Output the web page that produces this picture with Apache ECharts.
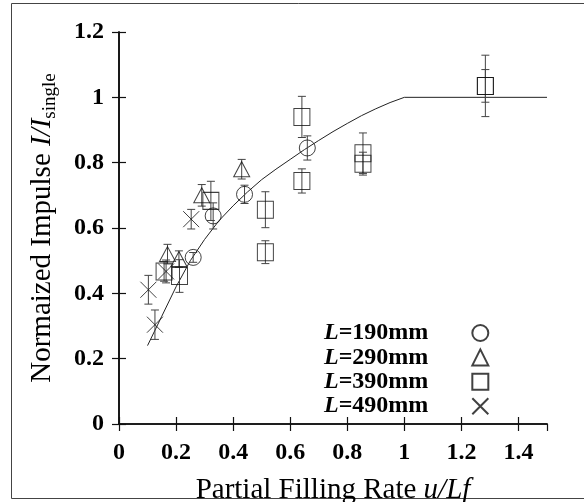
<!DOCTYPE html>
<html>
<head>
<meta charset="utf-8">
<script src="https://cdn.jsdelivr.net/npm/echarts@6/dist/echarts.min.js"></script>
<style>
  html, body { margin: 0; padding: 0; background: #fff; }
  #chart { width: 584px; height: 502px; }
</style>
</head>
<body>
<div id="chart"></div>
<script>
// L=190mm (circles)
var circleX = [0.26, 0.33, 0.44, 0.66];
var circleY = [0.51, 0.637, 0.703, 0.845];
var circleErr = [0.015, 0.04, 0.028, 0.037];
// L=290mm (triangles)
var triX = [0.17, 0.21, 0.29, 0.43];
var triY = [0.52, 0.505, 0.70, 0.78];
var triErr = [0.03, 0.025, 0.033, 0.03];
// L=390mm (squares)
var sqX = [0.158, 0.212, 0.322, 0.513, 0.513, 0.641, 0.641, 0.855, 0.855, 1.284, 1.284];
var sqY = [0.467, 0.453, 0.683, 0.656, 0.526, 0.94, 0.744, 0.829, 0.797, 1.035, 1.035];
var sqErr = [0.03, 0.05, 0.06, 0.055, 0.035, 0.063, 0.037, 0.062, 0.035, 0.094, 0.05];
// L=490mm (crosses)
var crossX = [0.103, 0.126, 0.165, 0.253];
var crossY = [0.411, 0.304, 0.467, 0.627];
var crossErr = [0.044, 0.045, 0.035, 0.03];
// fitted curve
var curveX = [0.1, 0.15, 0.2, 0.25, 0.3, 0.35, 0.4, 0.45, 0.5, 0.55, 0.6, 0.65, 0.7, 0.75, 0.8, 0.85, 0.9, 0.95, 1.0, 1.5];
var curveY = [0.24, 0.33, 0.42, 0.50, 0.565, 0.622, 0.668, 0.71, 0.748, 0.78, 0.81, 0.84, 0.868, 0.895, 0.92, 0.944, 0.965, 0.984, 1.0, 1.0];

var names = ['L=190mm', 'L=290mm', 'L=390mm', 'L=490mm'];
var serif = 'Liberation Serif';

function pts(xs, ys) {
  var d = [];
  for (var i = 0; i < xs.length; i++) d.push([xs[i], ys[i]]);
  return d;
}
function errs(xs, ys, es) {
  var d = [];
  for (var i = 0; i < xs.length; i++) d.push([xs[i], ys[i], es[i]]);
  return d;
}
function errRender(params, api) {
  var x = api.value(0), y = api.value(1), e = api.value(2);
  var top = api.coord([x, y + e]);
  var bot = api.coord([x, y - e]);
  var w = 4;
  var st = { stroke: '#444', lineWidth: 1 };
  return { type: 'group', children: [
    { type: 'line', shape: { x1: top[0], y1: top[1], x2: bot[0], y2: bot[1] }, style: st },
    { type: 'line', shape: { x1: top[0] - w, y1: top[1], x2: top[0] + w, y2: top[1] }, style: st },
    { type: 'line', shape: { x1: bot[0] - w, y1: bot[1], x2: bot[0] + w, y2: bot[1] }, style: st }
  ]};
}
function errSeries(data) {
  return { type: 'custom', renderItem: errRender, data: data, silent: true, z: 3 };
}
var mark = { color: 'none', borderColor: '#111', borderWidth: 1 };
var crossPath = 'path://M0,0L10,10M10,0L0,10';

var myChart = echarts.init(document.getElementById('chart'));
var tickStyle = { inside: true, length: 7, lineStyle: { color: '#111', width: 1.2 } };
var lineStyle = { color: '#111', width: 1.6 };
option = {
  animation: false,
  textStyle: { fontFamily: serif },
  grid: { left: 119, right: 37, top: 32, bottom: 78, outerBoundsMode: 'none', containLabel: false },
  graphic: [{
    type: 'rect', shape: { x: 11.5, y: 3.5, width: 600, height: 495 },
    style: { fill: 'none', stroke: '#444', lineWidth: 1 }, silent: true
  }],
  legend: {
    data: names, orient: 'vertical', align: 'right',
    left: 319, top: 316, itemGap: 0.4, itemWidth: 16, itemHeight: 16,
    formatter: function (n) { return '{i|L}{t|' + n.slice(1) + '}'; },
    textStyle: {
      fontFamily: serif, fontSize: 24, color: '#000', lineHeight: 21,
      rich: {
        i: { fontFamily: serif, fontSize: 24, fontStyle: 'italic', fontWeight: 'bold', color: '#000', lineHeight: 21 },
        t: { fontFamily: serif, fontSize: 24, fontWeight: 'bold', color: '#000', lineHeight: 21, padding: [0, 39, 0, 0] }
      }
    }
  },
  xAxis: [{
    type: 'value', min: 0, max: 1.5, interval: 0.2,
    name: '{n|Partial Filling Rate }{i|u/Lf}', nameLocation: 'middle', nameGap: 52,
    nameTextStyle: { rich: {
      n: { fontFamily: serif, fontSize: 29, color: '#000' },
      i: { fontFamily: serif, fontSize: 29, fontStyle: 'italic', color: '#000' }
    } },
    axisLine: { lineStyle: lineStyle }, axisTick: tickStyle,
    splitLine: { show: false },
    axisLabel: { showMaxLabel: false, margin: 17, fontFamily: serif, fontSize: 24, fontWeight: 'bold', color: '#000' }
  }, {
    type: 'value', position: 'top', min: 0, max: 1.5, interval: 0.2,
    axisLine: { lineStyle: lineStyle }, axisTick: tickStyle,
    splitLine: { show: false }, axisLabel: { show: false }
  }],
  yAxis: [{
    type: 'value', min: 0, max: 1.2, interval: 0.2,
    name: '{n|Normaized Impulse }{i|I/I}{s|single}', nameLocation: 'middle', nameGap: 59,
    nameTextStyle: { rich: {
      n: { fontFamily: serif, fontSize: 29, color: '#000' },
      i: { fontFamily: serif, fontSize: 29, fontStyle: 'italic', color: '#000' },
      s: { fontFamily: serif, fontSize: 19, color: '#000', padding: [16, 0, 0, 0] }
    } },
    axisLine: { lineStyle: lineStyle }, axisTick: tickStyle,
    splitLine: { show: false },
    axisLabel: { margin: 15, fontFamily: serif, fontSize: 24, fontWeight: 'bold', color: '#000' }
  }, {
    type: 'value', position: 'right', min: 0, max: 1.2, interval: 0.2,
    axisLine: { lineStyle: lineStyle }, axisTick: tickStyle,
    splitLine: { show: false }, axisLabel: { show: false }
  }],
  series: [
    { type: 'line', data: pts(curveX, curveY), showSymbol: false, symbol: 'none',
      lineStyle: { color: '#222', width: 1 }, z: 2, silent: true },
    errSeries(errs(circleX, circleY, circleErr)),
    errSeries(errs(triX, triY, triErr)),
    errSeries(errs(sqX, sqY, sqErr)),
    errSeries(errs(crossX, crossY, crossErr)),
    { name: names[0], type: 'scatter', symbol: 'circle', symbolSize: 16, data: pts(circleX, circleY), itemStyle: mark, z: 4 },
    { name: names[1], type: 'scatter', symbol: 'triangle', symbolSize: [16, 15], data: pts(triX, triY), itemStyle: mark, z: 4 },
    { name: names[2], type: 'scatter', symbol: 'rect', symbolSize: [16, 17], data: pts(sqX, sqY), itemStyle: mark, z: 4 },
    { name: names[3], type: 'scatter', symbol: crossPath, symbolSize: 16, data: pts(crossX, crossY), itemStyle: mark, z: 4 }
  ]
};
myChart.setOption(option);
</script>
</body>
</html>
